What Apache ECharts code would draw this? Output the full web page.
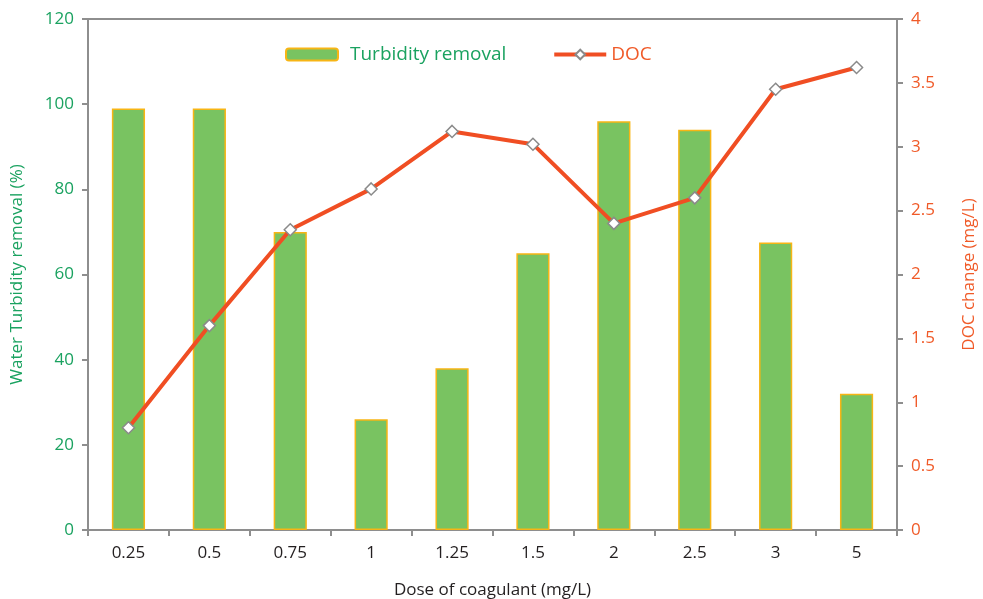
<!DOCTYPE html>
<html>
<head>
<meta charset="utf-8">
<script src="https://cdn.jsdelivr.net/npm/echarts@6/dist/echarts.min.js"></script>
<style>html,body{margin:0;padding:0;background:#fff}#c{width:983px;height:599px}</style>
</head>
<body>
<div id="c"></div>
<script>
var categories = ['0.25','0.5','0.75','1','1.25','1.5','2','2.5','3','5'];
var turbidityRemoval = [99, 99, 70, 26, 38, 65, 96, 94, 67.5, 32];
var docChange = [0.8, 1.6, 2.35, 2.67, 3.12, 3.02, 2.4, 2.6, 3.45, 3.62];

var green = '#1aa260', orange = '#f05a28', gray = '#8e8e8e', font = 'Open Sans';
var chart = echarts.init(document.getElementById('c'));
chart.setOption({
  animation: false,
  textStyle: {fontFamily: font},
  grid: {left: 88, right: 86, top: 19, bottom: 69, show: true, borderColor: gray, borderWidth: 2, backgroundColor: 'transparent', containLabel: false, outerBoundsMode: 'none'},
  legend: {
    left: 280, top: 40, itemWidth: 52, itemHeight: 12, itemGap: 46,
    data: [
      {name: 'Turbidity removal', textStyle: {color: green, fontSize: 19, fontFamily: font, padding: [0, 0, 0, 7]}},
      {name: 'DOC', textStyle: {color: orange, fontSize: 19, fontFamily: font, padding: [0, 0, 0, 0]}, lineStyle: {width: 4, color: '#f04e23'}}
    ]
  },
  xAxis: {
    type: 'category', data: categories,
    name: 'Dose of coagulant (mg/L)', nameLocation: 'middle', nameGap: 52,
    nameTextStyle: {color: '#231f20', fontSize: 17, fontFamily: font},
    axisLine: {lineStyle: {color: gray, width: 2}},
    axisTick: {show: true, length: 6, lineStyle: {color: gray, width: 2}},
    axisLabel: {color: '#231f20', fontSize: 17, margin: 15, fontFamily: font}
  },
  yAxis: [
    {
      type: 'value', min: 0, max: 120, interval: 20,
      name: 'Water Turbidity removal (%)', nameLocation: 'middle', nameRotate: 90, nameGap: 62,
      nameTextStyle: {color: green, fontSize: 17, fontFamily: font},
      axisLine: {show: true, lineStyle: {color: gray, width: 2}},
      axisTick: {show: true, length: 6, lineStyle: {color: gray, width: 2}},
      axisLabel: {color: green, fontSize: 17, margin: 14, fontFamily: font},
      splitLine: {show: false}
    },
    {
      type: 'value', min: 0, max: 4, interval: 0.5, position: 'right',
      name: 'DOC change (mg/L)', nameLocation: 'middle', nameRotate: 90, nameGap: 64,
      nameTextStyle: {color: orange, fontSize: 17, fontFamily: font},
      axisLine: {show: true, lineStyle: {color: gray, width: 2}},
      axisTick: {show: true, length: 6, lineStyle: {color: gray, width: 2}},
      axisLabel: {color: orange, fontSize: 17, margin: 14, fontFamily: font},
      splitLine: {show: false}
    }
  ],
  series: [
    {
      name: 'Turbidity removal', type: 'bar', yAxisIndex: 0, data: turbidityRemoval,
      barWidth: '41%',
      itemStyle: {color: '#79c361', borderColor: '#f7b515', borderWidth: 1.5}
    },
    {
      name: 'DOC', type: 'line', yAxisIndex: 1, data: docChange,
      symbol: 'diamond', symbolSize: 12,
      lineStyle: {color: '#f04e23', width: 4},
      itemStyle: {color: '#ffffff', borderColor: '#8a8a8a', borderWidth: 1.5}
    }
  ]
});
</script>
</body>
</html>
